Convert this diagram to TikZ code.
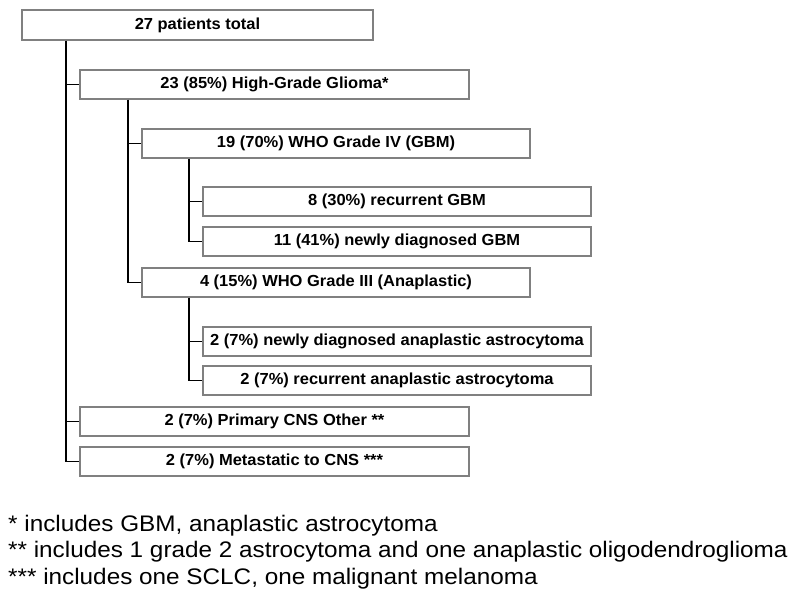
\documentclass[tikz,border=0pt]{standalone}
\usepackage{fontspec}
\setmainfont{Liberation Sans}
\usepackage{graphicx}
\begin{document}
\begin{tikzpicture}[x=1pt,y=-1pt,
  box/.style={draw=black!50, line width=1.2pt, fill=white, inner sep=0pt, font=\fontsize{16}{18}\selectfont\bfseries},
  conn/.style={draw=black, line width=1.2pt},
  foot/.style={anchor=base west, inner sep=0pt, font=\fontsize{22.5}{24}\selectfont}]
\useasboundingbox (0,0) rectangle (800,600);
\fill[white] (0,0) rectangle (800,600);
\newcommand{\bx}[6]{\node[box, minimum width=#4-#2, minimum height=#5-#3] (#1) at ({(#2+#4)/2},{(#3+#5)/2}) {\scalebox{1.03}[1]{#6}};}
\bx{n1}{22}{10}{373}{40}{27 patients total}
\bx{n2}{80}{70}{469}{99}{23 (85\%) High-Grade Glioma*}
\bx{n3}{142}{129}{530}{158}{19 (70\%) WHO Grade IV (GBM)}
\bx{n4}{203}{187}{591}{216}{8 (30\%) recurrent GBM}
\bx{n5}{203}{227}{591}{256}{11 (41\%) newly diagnosed GBM}
\bx{n6}{142}{268}{530}{297}{4 (15\%) WHO Grade III (Anaplastic)}
\bx{n7}{203}{327}{591}{356}{2 (7\%) newly diagnosed anaplastic astrocytoma}
\bx{n8}{203}{366}{591}{395}{2 (7\%) recurrent anaplastic astrocytoma}
\bx{n9}{80}{407}{469}{436}{2 (7\%) Primary CNS Other **}
\bx{n10}{80}{447}{469}{476}{2 (7\%) Metastatic to CNS ***}
% connectors
\draw[conn] (n1.south -| 66,0) |- (n10.west);
\draw[conn] (66,0 |- n2.west) -- (n2.west);
\draw[conn] (66,0 |- n9.west) -- (n9.west);
\draw[conn] (n2.south -| 128,0) |- (n6.west);
\draw[conn] (128,0 |- n3.west) -- (n3.west);
\draw[conn] (n3.south -| 189,0) |- (n5.west);
\draw[conn] (189,0 |- n4.west) -- (n4.west);
\draw[conn] (n6.south -| 189,0) |- (n8.west);
\draw[conn] (189,0 |- n7.west) -- (n7.west);
% footnotes
\node[foot] (f1) at (8,531) {\scalebox{1.08}[1]{* includes GBM, anaplastic astrocytoma}};
\node[foot] (f2) at (8,557.5) {\scalebox{1.08}[1]{** includes 1 grade 2 astrocytoma and one anaplastic oligodendroglioma}};
\node[foot] (f3) at (8,584) {\scalebox{1.08}[1]{*** includes one SCLC, one malignant melanoma}};
\end{tikzpicture}
\end{document}
